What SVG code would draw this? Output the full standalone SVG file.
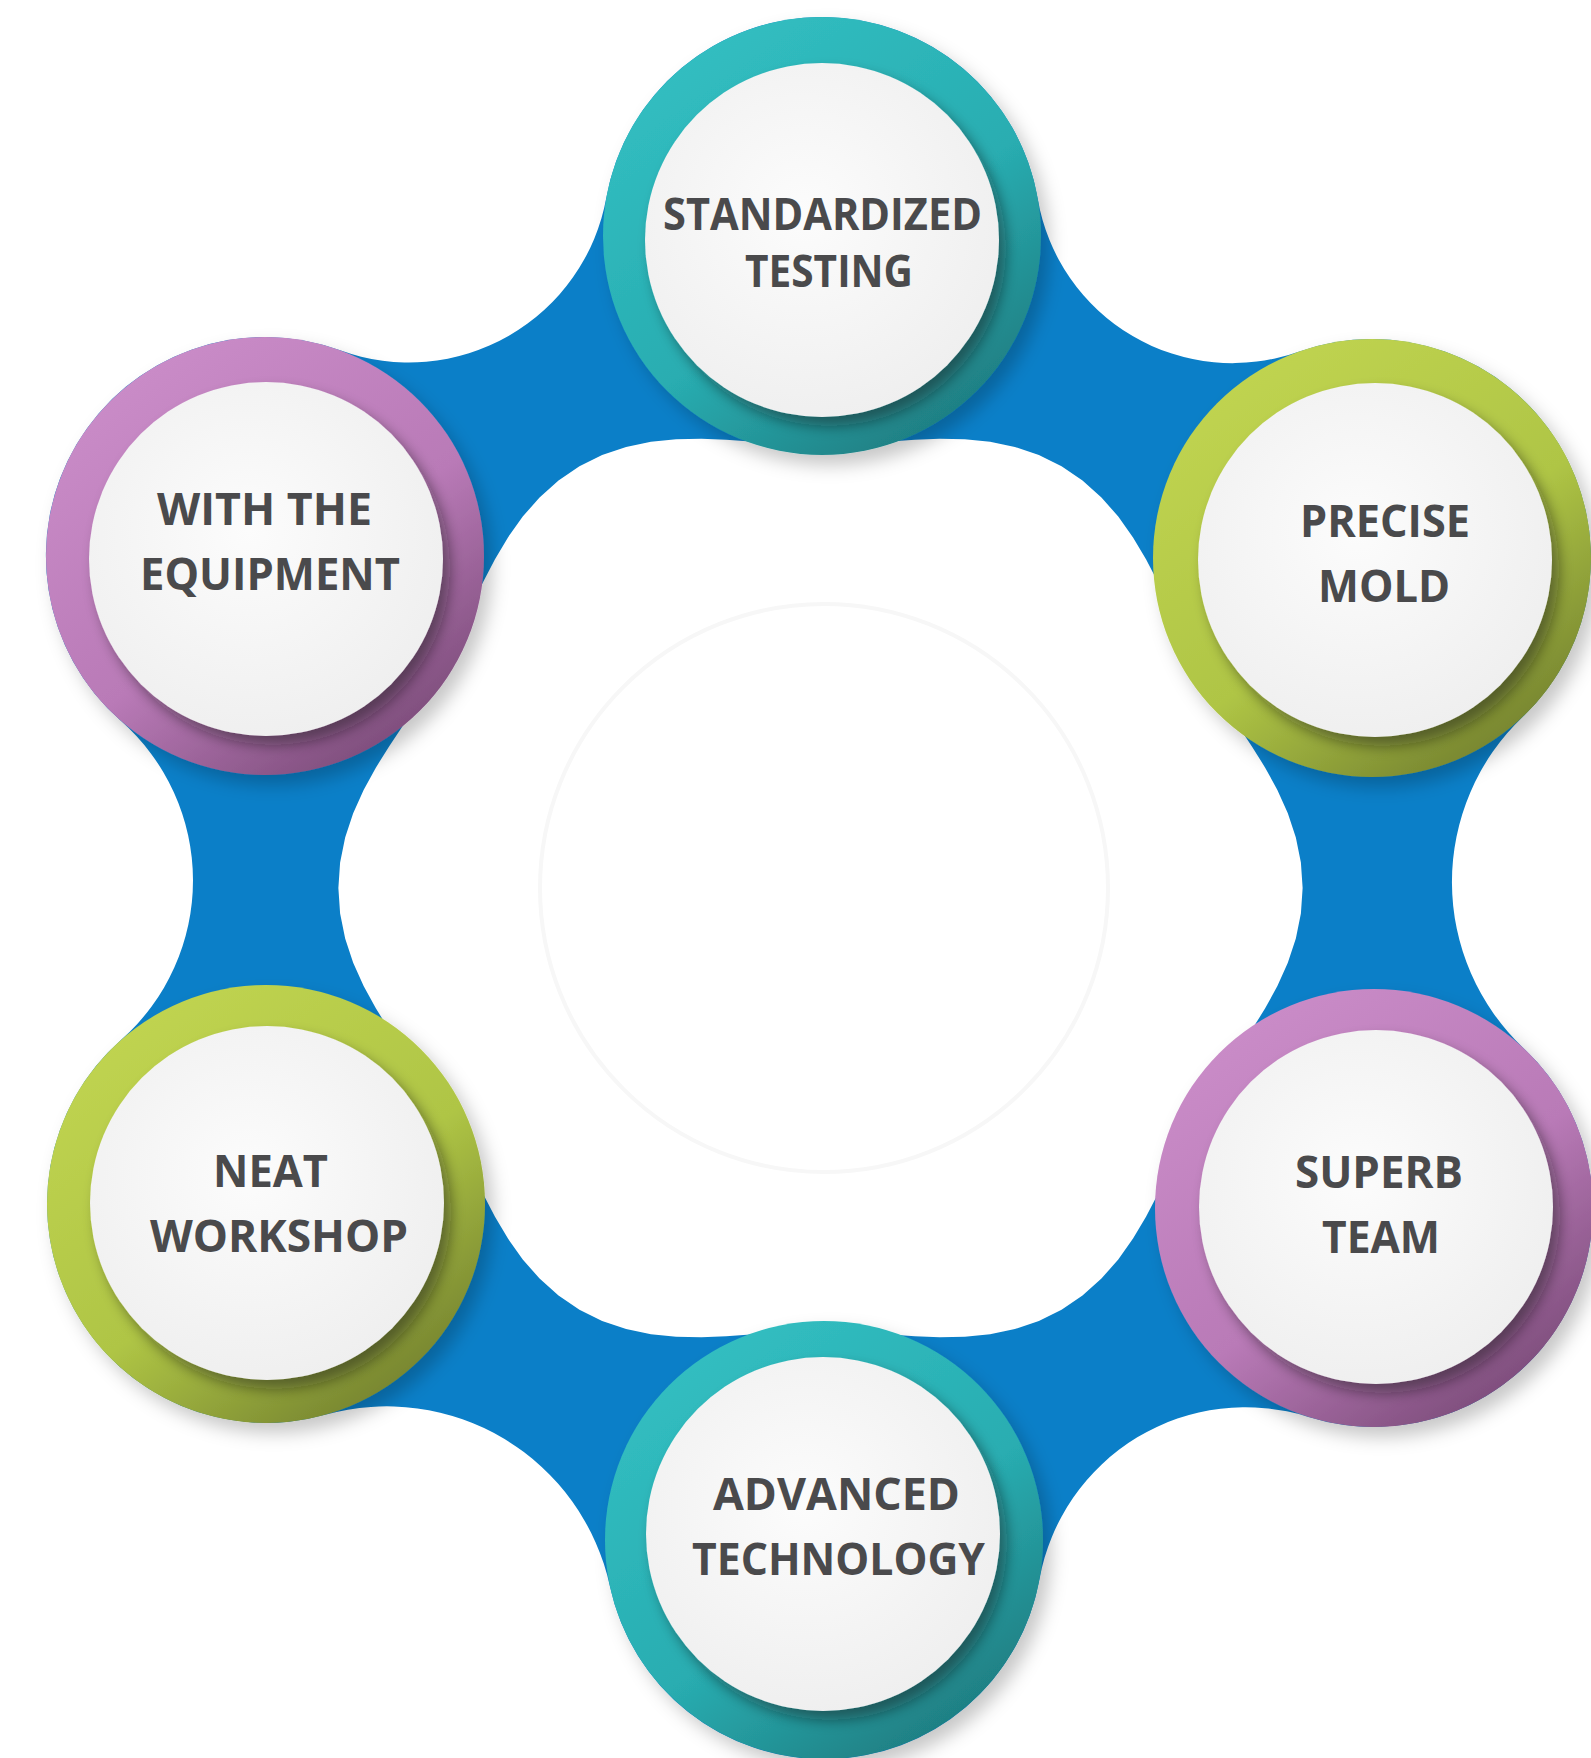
<svg xmlns="http://www.w3.org/2000/svg" width="1591" height="1758" viewBox="0 0 1591 1758">
<defs>
<linearGradient id="gTeal" x1="0.2" y1="0.1" x2="0.8" y2="0.95">
<stop offset="0" stop-color="#31bdc0"/><stop offset="0.55" stop-color="#29adb1"/><stop offset="1" stop-color="#1e7c80"/>
</linearGradient>
<linearGradient id="gGreen" x1="0.2" y1="0.1" x2="0.8" y2="0.95">
<stop offset="0" stop-color="#bfd350"/><stop offset="0.55" stop-color="#afc545"/><stop offset="1" stop-color="#74822f"/>
</linearGradient>
<linearGradient id="gPurple" x1="0.2" y1="0.1" x2="0.8" y2="0.95">
<stop offset="0" stop-color="#c98bc7"/><stop offset="0.55" stop-color="#b97ab7"/><stop offset="1" stop-color="#7b4b79"/>
</linearGradient>
<radialGradient id="gWhite" cx="0.45" cy="0.42" r="0.6">
<stop offset="0" stop-color="#fcfcfc"/><stop offset="1" stop-color="#efefef"/>
</radialGradient>
<filter id="ringShadow" x="-20%" y="-20%" width="150%" height="150%">
<feDropShadow dx="8" dy="10" stdDeviation="9" flood-color="#000" flood-opacity="0.22"/>
</filter>
<filter id="discShadow" x="-20%" y="-20%" width="150%" height="150%">
<feDropShadow dx="7" dy="9" stdDeviation="7" flood-color="#1a1a1a" flood-opacity="0.45"/>
</filter>
<path id="wedge" d="M0 0 L372.44 -241.86 L383.65 -221.5 L395.68 -201.61 L408.54 -181.89 L422.04 -162.01 L435.78 -141.59 L449.16 -120.35 L461.49 -98.09 L472.05 -74.76 L480.15 -50.47 L485.25 -25.43 L487 0 L485.25 25.43 L480.15 50.47 L472.05 74.76 L461.49 98.09 L449.16 120.35 L435.78 141.59 L422.04 162.01 L408.54 181.89 L395.68 201.61 L383.65 221.5 L372.44 241.86 Z"/>
</defs>
<style>
.lbl{font-family:"Open Sans","Noto Sans","DejaVu Sans",sans-serif;font-weight:700;font-size:45px;fill:#4a4a4c;text-anchor:middle}
.disc{fill:url(#gWhite);filter:url(#discShadow)}
.ring{filter:url(#ringShadow)}
.flower{fill:#ffffff}
</style>
<rect width="1591" height="1758" fill="#ffffff"/>
<g id="connectors">
<path id="band" fill="#0b7fc8" d="M 606.4 197.3 A 219 219 0 0 1 1037.8 199.0 A 197.4 197.4 0 0 0 1298.6 351.7 A 219 219 0 0 1 1522.9 716.7 A 228.2 228.2 0 0 0 1523.9 1048.4 A 219 219 0 0 1 1308.3 1416.9 A 209.3 209.3 0 0 0 1039.5 1579.2 A 219 219 0 0 1 609.9 1586.3 A 228.3 228.3 0 0 0 325.2 1414.8 A 219 219 0 0 1 121.2 1039.7 A 212.5 212.5 0 0 0 120.5 720.6 A 219 219 0 0 1 340.2 350.3 A 200.6 200.6 0 0 0 606.4 197.3 Z"/>
<g id="center-hole" class="flower" transform="translate(820.5 888) scale(0.99 1)">
<use href="#wedge"/>
<use href="#wedge" transform="rotate(60)"/>
<use href="#wedge" transform="rotate(120)"/>
<use href="#wedge" transform="rotate(180)"/>
<use href="#wedge" transform="rotate(240)"/>
<use href="#wedge" transform="rotate(300)"/>
<circle r="420"/>
</g>
<circle cx="824" cy="888" r="284" fill="none" stroke="#f7f7f7" stroke-width="4"/>
</g>
<g id="node-standardized-testing">
<circle class="ring" cx="822" cy="236" r="219" fill="url(#gTeal)"/>
<circle class="disc" cx="822" cy="240" r="177"/>
<text class="lbl" x="822.5" y="230" textLength="319" lengthAdjust="spacingAndGlyphs">STANDARDIZED</text>
<text class="lbl" x="829" y="287" textLength="168" lengthAdjust="spacingAndGlyphs">TESTING</text>
</g>
<g id="node-precise-mold">
<circle class="ring" cx="1372" cy="558" r="219" fill="url(#gGreen)"/>
<circle class="disc" cx="1375" cy="560" r="177"/>
<text class="lbl" x="1385" y="537" textLength="170" lengthAdjust="spacingAndGlyphs">PRECISE</text>
<text class="lbl" x="1384" y="602" textLength="132" lengthAdjust="spacingAndGlyphs">MOLD</text>
</g>
<g id="node-superb-team">
<circle class="ring" cx="1374" cy="1208" r="219" fill="url(#gPurple)"/>
<circle class="disc" cx="1376" cy="1207" r="177"/>
<text class="lbl" x="1379" y="1188" textLength="168" lengthAdjust="spacingAndGlyphs">SUPERB</text>
<text class="lbl" x="1381" y="1253" textLength="118" lengthAdjust="spacingAndGlyphs">TEAM</text>
</g>
<g id="node-advanced-technology">
<circle class="ring" cx="824" cy="1540" r="219" fill="url(#gTeal)"/>
<circle class="disc" cx="823" cy="1534" r="177"/>
<text class="lbl" x="836.5" y="1510" textLength="247" lengthAdjust="spacingAndGlyphs">ADVANCED</text>
<text class="lbl" x="838.5" y="1575" textLength="293" lengthAdjust="spacingAndGlyphs">TECHNOLOGY</text>
</g>
<g id="node-neat-workshop">
<circle class="ring" cx="266" cy="1204" r="219" fill="url(#gGreen)"/>
<circle class="disc" cx="267" cy="1203" r="177"/>
<text class="lbl" x="270.5" y="1187" textLength="115" lengthAdjust="spacingAndGlyphs">NEAT</text>
<text class="lbl" x="279" y="1252" textLength="258" lengthAdjust="spacingAndGlyphs">WORKSHOP</text>
</g>
<g id="node-with-the-equipment">
<circle class="ring" cx="265" cy="556" r="219" fill="url(#gPurple)"/>
<circle class="disc" cx="266" cy="559" r="177"/>
<text class="lbl" x="264.5" y="525" textLength="215" lengthAdjust="spacingAndGlyphs">WITH THE</text>
<text class="lbl" x="270" y="590" textLength="260" lengthAdjust="spacingAndGlyphs">EQUIPMENT</text>
</g>
</svg>
